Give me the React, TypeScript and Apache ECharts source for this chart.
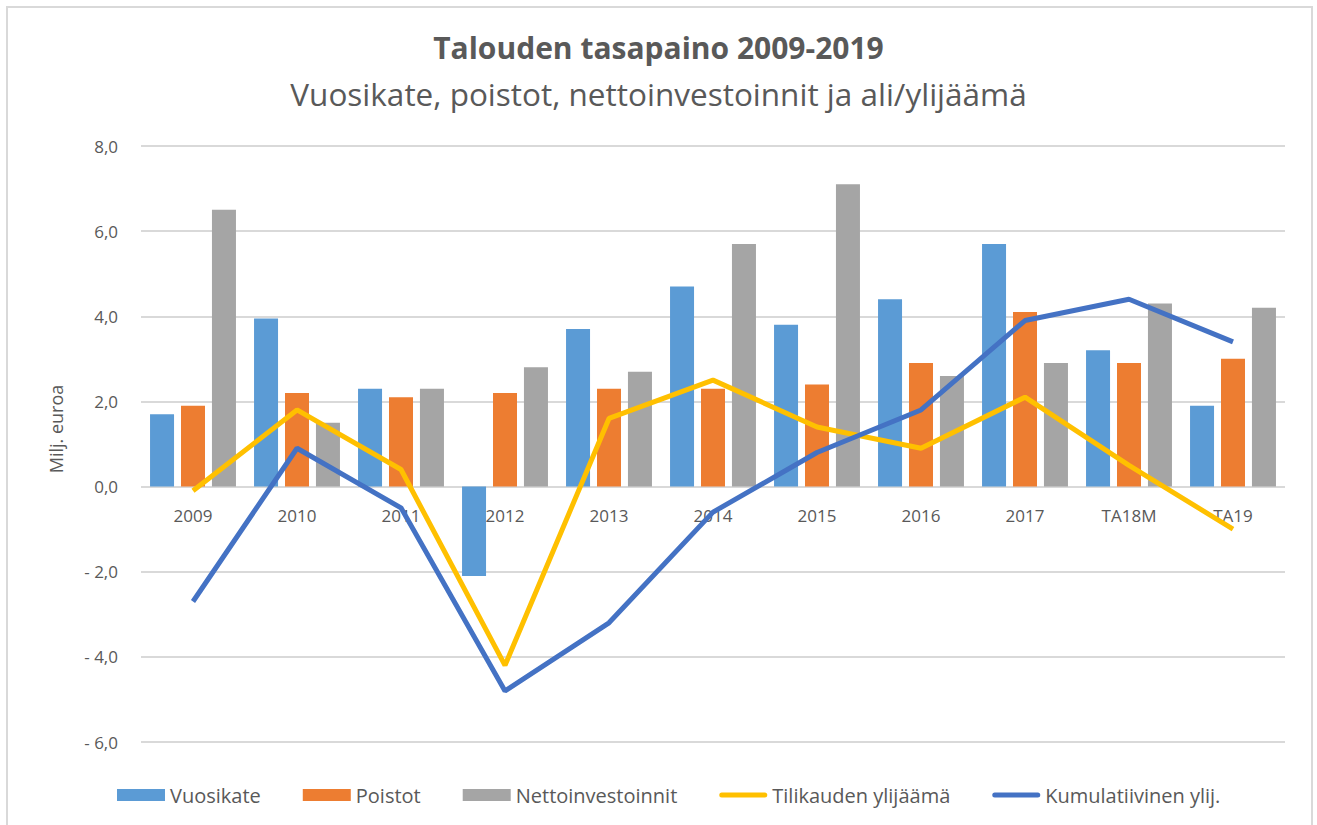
import React, { useEffect, useRef } from "react";
import * as echarts from "echarts";

const categories = ["2009", "2010", "2011", "2012", "2013", "2014", "2015", "2016", "2017", "TA18M", "TA19"];
const vuosikate = [1.7, 3.95, 2.3, -2.1, 3.7, 4.7, 3.8, 4.4, 5.7, 3.2, 1.9];
const poistot = [1.9, 2.2, 2.1, 2.2, 2.3, 2.3, 2.4, 2.9, 4.1, 2.9, 3.0];
const nettoinvestoinnit = [6.5, 1.5, 2.3, 2.8, 2.7, 5.7, 7.1, 2.6, 2.9, 4.3, 4.2];
const tilikaudenYlijaama = [-0.1, 1.8, 0.4, -4.2, 1.6, 2.5, 1.4, 0.9, 2.1, 0.5, -1.0];
const kumulatiivinen = [-2.7, 0.9, -0.5, -4.8, -3.2, -0.6, 0.8, 1.8, 3.9, 4.4, 3.4];

const FONT = "Open Sans";
const TXT = "#595959";
const LINE_ICON = "path://M2.5,0 h43 a2.5,2.5 0 0 1 0,5 h-43 a2.5,2.5 0 0 1 0,-5 z";

function fmt(v: number): string {
  const s = Math.abs(v).toFixed(1).replace(".", ",");
  return v < 0 ? "- " + s : s;
}

export default function App() {
  const ref = useRef<HTMLDivElement>(null);
  useEffect(() => {
    if (!ref.current) return;
    const chart = echarts.init(ref.current, null, { renderer: "svg" });
    const barCommon = { type: "bar", barWidth: 24, barGap: "29%" };
    chart.setOption({
      animation: false,
      backgroundColor: "#ffffff",
      title: [
        {
          text: "Talouden tasapaino 2009-2019",
          left: "center",
          top: 27,
          textStyle: { fontFamily: FONT, fontSize: 30, fontWeight: "bold", color: TXT },
        },
        {
          text: "Vuosikate, poistot, nettoinvestoinnit ja ali/ylijäämä",
          left: "center",
          top: 72,
          textStyle: { fontFamily: FONT, fontSize: 31.5, fontWeight: "normal", color: TXT },
        },
      ],
      graphic: [
        {
          type: "rect",
          shape: { x: 7, y: 7, width: 1305, height: 830 },
          style: { fill: "none", stroke: "#D9D9D9", lineWidth: 2 },
          silent: true,
        },
      ],
      legend: {
        left: 112,
        top: 780,
        itemWidth: 48,
        itemHeight: 12,
        itemGap: 42,
        textStyle: { fontFamily: FONT, fontSize: 20, color: TXT },
        data: [
          { name: "Vuosikate", icon: "rect" },
          { name: "Poistot", icon: "rect" },
          { name: "Nettoinvestoinnit", icon: "rect" },
          { name: "Tilikauden ylijäämä", icon: LINE_ICON },
          { name: "Kumulatiivinen ylij.", icon: LINE_ICON },
        ],
      },
      grid: { left: 141, right: 32, top: 146, bottom: 83 },
      xAxis: {
        type: "category",
        data: categories,
        offset: -255,
        axisLine: { show: false },
        axisTick: { show: false },
        axisLabel: { fontFamily: FONT, fontSize: 17, color: TXT, margin: 20 },
      },
      yAxis: {
        type: "value",
        min: -6,
        max: 8,
        interval: 2,
        name: "Milj. euroa",
        nameLocation: "middle",
        nameGap: 76,
        nameRotate: 90,
        nameTextStyle: { fontFamily: FONT, fontSize: 18, color: TXT, padding: [0, 0, 0, 30] },
        axisLine: { show: false },
        axisTick: { show: false },
        axisLabel: { fontFamily: FONT, fontSize: 17, color: TXT, margin: 23, formatter: fmt },
        splitLine: { lineStyle: { color: "#D9D9D9", width: 2 } },
      },
      series: [
        { ...barCommon, name: "Vuosikate", data: vuosikate, itemStyle: { color: "#5B9BD5" } },
        { ...barCommon, name: "Poistot", data: poistot, itemStyle: { color: "#ED7D31" } },
        { ...barCommon, name: "Nettoinvestoinnit", data: nettoinvestoinnit, itemStyle: { color: "#A5A5A5" } },
        {
          type: "line",
          name: "Tilikauden ylijäämä",
          data: tilikaudenYlijaama,
          symbol: "none",
          lineStyle: { color: "#FFC000", width: 5 },
          itemStyle: { color: "#FFC000" },
        },
        {
          type: "line",
          name: "Kumulatiivinen ylij.",
          data: kumulatiivinen,
          symbol: "none",
          lineStyle: { color: "#4472C4", width: 5 },
          itemStyle: { color: "#4472C4" },
        },
      ],
    });
    return () => chart.dispose();
  }, []);
  return (
    <div
      ref={ref}
      style={{ position: "fixed", left: 0, top: 0, width: 1317, height: 825 }}
    />
  );
}
